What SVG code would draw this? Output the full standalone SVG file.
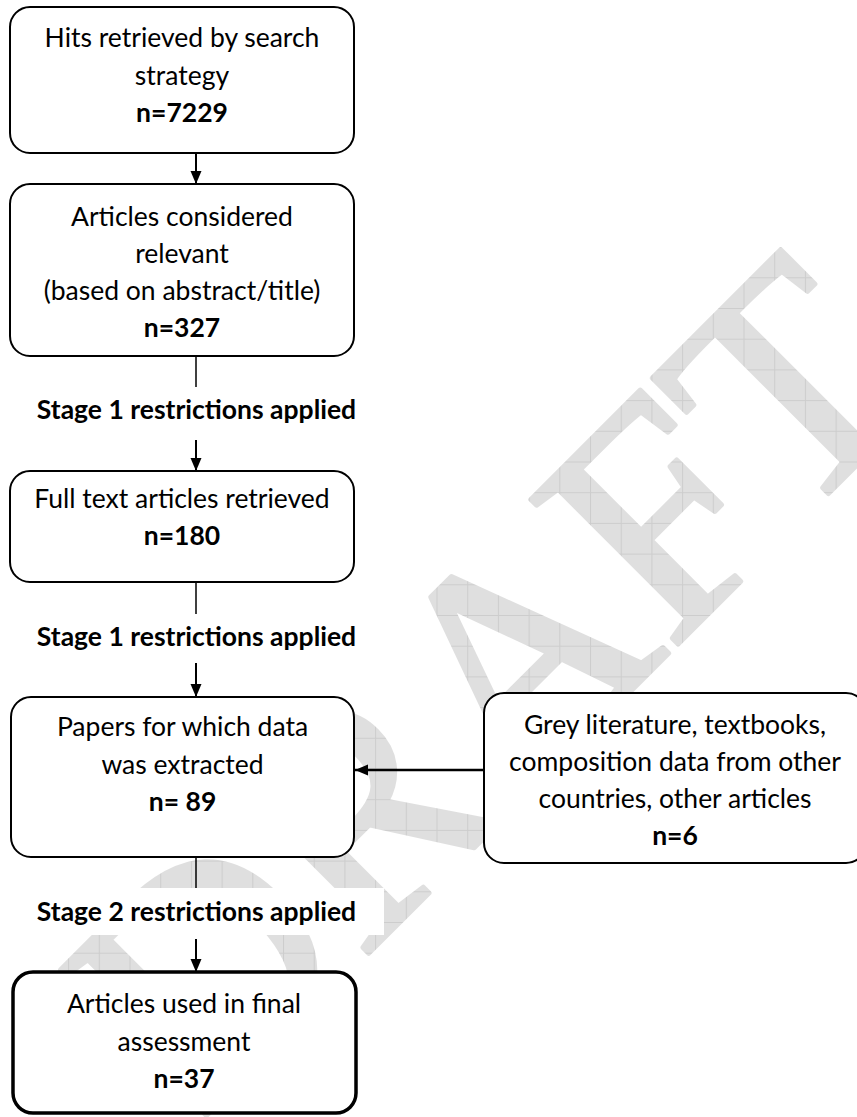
<svg xmlns="http://www.w3.org/2000/svg" width="857" height="1117" viewBox="0 0 857 1117">
  <defs>
    <pattern id="wmgrid" patternUnits="userSpaceOnUse" x="6.7" y="1" width="30.7" height="30.7" patternTransform="rotate(45) translate(-200,-1122)">
      <rect width="30.7" height="30.7" fill="#dfdfdf"/>
      <path d="M0.5 0V30.7M0 0.5H30.7" stroke="#cdcdcd" stroke-width="1" fill="none"/>
    </pattern>
    <marker id="arrow" markerUnits="userSpaceOnUse" markerWidth="14" markerHeight="12" refX="13" refY="5.5" orient="auto">
      <path d="M0 0L13 5.5L0 11Z" fill="#000"/>
    </marker>
  </defs>
  <style>
    .box { fill: #ffffff; stroke: #000000; stroke-width: 2; }
    .final { stroke-width: 3.5; }
    .t { font-family: Lato, "Open Sans", "Liberation Sans", sans-serif; font-size: 26.5px; fill: #000; text-anchor: middle; }
    .b { font-weight: bold; }
    .lbl { font-family: Lato, "Open Sans", "Liberation Sans", sans-serif; font-size: 26.5px; font-weight: bold; fill: #000; text-anchor: middle; }
    .arr { stroke: #000; stroke-width: 2; fill: none; marker-end: url(#arrow); }
    .ln { stroke: #000; stroke-width: 1.5; fill: none; }
    .lblbg { fill: #ffffff; }
  </style>
  <rect width="857" height="1117" fill="#ffffff"/>

  <g id="watermark">
    <text transform="translate(200,1122) rotate(-45)" font-family="Liberation Serif, serif" font-size="315" fill="url(#wmgrid)" stroke="url(#wmgrid)" stroke-width="5" stroke-linejoin="round">DRAFT</text>
  </g>

  <g id="connectors">
    <line class="arr" x1="196" y1="153" x2="196" y2="184"/>
    <line class="ln" x1="196" y1="356" x2="196" y2="387"/>
    <line class="arr" x1="196" y1="440" x2="196" y2="471"/>
    <line class="ln" x1="196" y1="582" x2="196" y2="614"/>
    <line class="arr" x1="196" y1="663" x2="196" y2="697"/>
    <line class="ln" x1="196" y1="857" x2="196" y2="890"/>
    <line class="arr" x1="196" y1="939" x2="196" y2="972"/>
    <line class="arr" x1="484" y1="770" x2="355" y2="770" style="stroke-width:2.5"/>
  </g>

  <g id="label1">
    <rect class="lblbg" x="28" y="392" width="356" height="44"/>
    <text class="lbl" x="196.5" y="419">Stage 1 restrictions applied</text>
  </g>
  <g id="label2">
    <rect class="lblbg" x="28" y="619" width="356" height="42"/>
    <text class="lbl" x="196.5" y="646">Stage 1 restrictions applied</text>
  </g>
  <g id="label3">
    <rect class="lblbg" x="28" y="888" width="356" height="47"/>
    <text class="lbl" x="196.5" y="921">Stage 2 restrictions applied</text>
  </g>

  <g id="hits">
    <rect class="box" x="10" y="7" width="344" height="146" rx="20"/>
    <text class="t" x="182" y="47">Hits retrieved by search</text>
    <text class="t" x="182" y="84.5">strategy</text>
    <text class="t b" x="182" y="122">n=7229</text>
  </g>

  <g id="relevant">
    <rect class="box" x="10" y="184" width="344" height="172" rx="20"/>
    <text class="t" x="182" y="225.5">Articles considered</text>
    <text class="t" x="182" y="262.5">relevant</text>
    <text class="t" x="182" y="299.5">(based on abstract/title)</text>
    <text class="t b" x="182" y="337">n=327</text>
  </g>

  <g id="fulltext">
    <rect class="box" x="10" y="471" width="344" height="111" rx="20"/>
    <text class="t" x="182" y="508">Full text articles retrieved</text>
    <text class="t b" x="182" y="545">n=180</text>
  </g>

  <g id="extracted">
    <rect class="box" x="11" y="697" width="343" height="160" rx="20"/>
    <text class="t" x="182.5" y="736">Papers for which data</text>
    <text class="t" x="182.5" y="774">was extracted</text>
    <text class="t b" x="182.5" y="811">n= 89</text>
  </g>

  <g id="grey">
    <rect class="box" x="484" y="693" width="382" height="170" rx="20"/>
    <text class="t" x="675" y="733.5">Grey literature, textbooks,</text>
    <text class="t" x="675" y="770.5">composition data from other</text>
    <text class="t" x="675" y="807.5">countries, other articles</text>
    <text class="t b" x="675" y="845">n=6</text>
  </g>

  <g id="final">
    <rect class="box final" x="13" y="972" width="343" height="141" rx="20"/>
    <text class="t" x="184" y="1013">Articles used in final</text>
    <text class="t" x="184" y="1051">assessment</text>
    <text class="t b" x="184" y="1088">n=37</text>
  </g>
</svg>
